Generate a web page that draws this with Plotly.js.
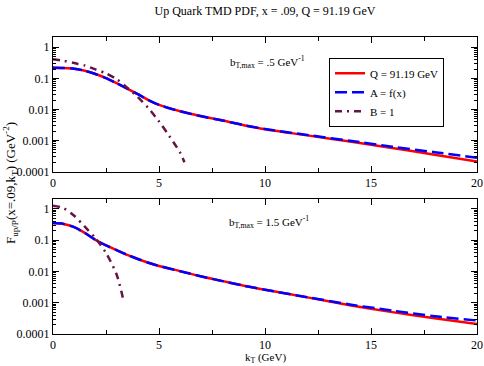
<!DOCTYPE html>
<html>
<head>
<meta charset="utf-8">
<script src="https://cdn.plot.ly/plotly-3.0.1.min.js"></script>
<style>
  html, body { margin: 0; padding: 0; background: #fff; }
  #plot { width: 484px; height: 366px; }
</style>
</head>
<body>
<div id="plot"></div>
<script>
// k_T grid (GeV)
var kT = [0, 0.5, 1, 1.5, 2, 2.5, 3, 3.5, 4, 4.5, 5, 6, 7, 8, 9, 10, 12, 14, 16, 18, 20];

// top panel, bT,max = .5 GeV^-1
var topQ = [0.22, 0.217, 0.205, 0.175, 0.138, 0.102, 0.07, 0.047, 0.031, 0.02, 0.014, 0.0087, 0.006, 0.0044, 0.0031, 0.0023, 0.00146, 0.00092, 0.00057, 0.00035, 0.00021];
var topA = [0.22, 0.217, 0.205, 0.175, 0.138, 0.102, 0.07, 0.047, 0.031, 0.02, 0.014, 0.0087, 0.006, 0.0044, 0.0031, 0.00235, 0.0015, 0.00098, 0.00063, 0.00042, 0.00028];
var topBk = [0, 0.5, 1, 1.5, 2, 2.5, 3, 3.5, 4, 4.5, 5, 5.5, 6, 6.2];
var topB = [0.41, 0.37, 0.31, 0.26, 0.195, 0.145, 0.094, 0.05, 0.025, 0.011, 0.0041, 0.00135, 0.0004, 0.0002];

// bottom panel, bT,max = 1.5 GeV^-1
var botQ = [0.35, 0.33, 0.26, 0.17, 0.102, 0.068, 0.048, 0.034, 0.025, 0.019, 0.015, 0.0102, 0.0069, 0.0049, 0.0035, 0.0026, 0.00148, 0.00083, 0.0005, 0.00032, 0.00021];
var botA = [0.35, 0.33, 0.26, 0.17, 0.102, 0.068, 0.048, 0.034, 0.025, 0.019, 0.015, 0.0102, 0.0069, 0.0049, 0.0035, 0.0026, 0.0015, 0.00088, 0.00056, 0.00037, 0.00027];
var botBk = [0, 0.5, 1, 1.5, 2, 2.5, 3, 3.3];
var botB = [1.25, 1.05, 0.6, 0.27, 0.115, 0.039, 0.008, 0.0014];

var names = ["Q = 91.19 GeV", "A = f(x)", "B = 1"];
var colors = ["#ff0000", "#0000ff", "#661446"];
var dashes = ["solid", "12px,5px", "7px,5px,2px,5px"];

var serif = "Liberation Serif, Times New Roman, serif";

function tr(x, y, i, xa, ya, show) {
  return {
    x: x, y: y, xaxis: xa, yaxis: ya,
    type: "scatter", mode: "lines", name: names[i], showlegend: show,
    line: {color: colors[i], width: 2.5, dash: dashes[i], shape: "spline", smoothing: 0.8}
  };
}

var data = [
  tr(kT, topQ, 0, "x", "y", true),
  tr(kT, topA, 1, "x", "y", true),
  tr(topBk, topB, 2, "x", "y", true),
  tr(kT, botQ, 0, "x2", "y2", false),
  tr(kT, botA, 1, "x2", "y2", false),
  tr(botBk, botB, 2, "x2", "y2", false)
];

// minor ticks 2..9 per decade
var minorVals = [];
for (var e = -4; e < 1; e++) {
  for (var m = 2; m < 10; m++) minorVals.push(m * Math.pow(10, e));
}

function xax(anchor) {
  return {
    anchor: anchor, domain: [0, 1], range: [0, 20], dtick: 5,
    ticks: "inside", ticklen: 6, tickcolor: "#000", mirror: "ticks",
    showline: true, linecolor: "#000", linewidth: 1,
    showgrid: false, zeroline: false,
    tickfont: {family: serif, size: 12, color: "#000"},
    minor: {dtick: 2.5, ticks: "inside", ticklen: 4, tickcolor: "#000", showgrid: false}
  };
}
function yax(anchor, dom, top) {
  return {
    anchor: anchor, domain: dom, type: "log", range: [-4, top],
    tickmode: "array",
    tickvals: [0.0001, 0.001, 0.01, 0.1, 1],
    ticktext: ["0.0001", "0.001", "0.01", "0.1", "1"],
    ticks: "inside", ticklen: 6, tickcolor: "#000", mirror: "ticks",
    showline: true, linecolor: "#000", linewidth: 1,
    showgrid: false, zeroline: false,
    tickfont: {family: serif, size: 12, color: "#000"},
    minor: {tickmode: "array", tickvals: minorVals, ticks: "inside", ticklen: 3, tickcolor: "#000", showgrid: false}
  };
}

var layout = {
  width: 484, height: 366,
  margin: {l: 53, r: 7, t: 37, b: 32},
  paper_bgcolor: "#fff", plot_bgcolor: "#fff",
  font: {family: serif, size: 12, color: "#000"},
  title: {text: "Up Quark TMD PDF, x = .09, Q = 91.19 GeV", font: {family: serif, size: 12, color: "#000"},
          x: 0.5, xref: "paper", y: 0.97, yanchor: "middle"},
  xaxis: xax("y"),
  yaxis: yax("x", [0.547, 1], 0.331),
  xaxis2: xax("y2"),
  yaxis2: yax("x2", [0, 0.454], 0.31),
  showlegend: true,
  legend: {x: 0.651, y: 0.93, xanchor: "left", yanchor: "top",
           bgcolor: "#fff", bordercolor: "#000", borderwidth: 1,
           font: {family: serif, size: 11, color: "#000"}, tracegroupgap: 0},
  annotations: [
    {text: "b<sub>T,max</sub> = .5 GeV<sup>-1</sup>", xref: "paper", yref: "paper",
     x: 0.507, y: 0.916, xanchor: "center", yanchor: "middle", showarrow: false, font: {family: serif, size: 11}},
    {text: "b<sub>T,max</sub> = 1.5 GeV<sup>-1</sup>", xref: "paper", yref: "paper",
     x: 0.51, y: 0.378, xanchor: "center", yanchor: "middle", showarrow: false, font: {family: serif, size: 11}},
    {text: "F<sub>up/P</sub>(x=.09,k<sub>T</sub>) (GeV<sup>-2</sup>)", xref: "paper", yref: "paper",
     x: -0.101, y: 0.509, xanchor: "center", yanchor: "middle", textangle: -90, showarrow: false, font: {family: serif, size: 13}},
    {text: "k<sub>T</sub> (GeV)", xref: "paper", yref: "paper",
     x: 0.5, y: -0.08, xanchor: "center", yanchor: "middle", showarrow: false, font: {family: serif, size: 11}}
  ]
};

Plotly.newPlot("plot", data, layout, {staticPlot: true});
</script>
</body>
</html>
